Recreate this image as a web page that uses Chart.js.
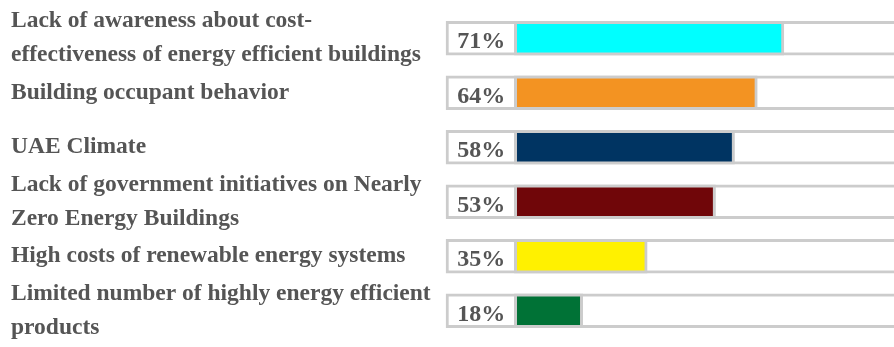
<!DOCTYPE html>
<html>
<head>
<meta charset="utf-8">
<script src="https://cdn.jsdelivr.net/npm/chart.js@4/dist/chart.umd.min.js"></script>
<style>
  html, body { margin: 0; padding: 0; background: #ffffff; }
  #wrap { width: 894px; height: 347px; position: relative; }
</style>
</head>
<body>
<div id="wrap"><canvas id="c"></canvas></div>
<script>
// Barriers and the share of respondents naming each one
const categories = [
  ["Lack of awareness about cost-", "effectiveness of energy efficient buildings"],
  ["Building occupant behavior"],
  ["UAE Climate"],
  ["Lack of government initiatives on Nearly", "Zero Energy Buildings"],
  ["High costs of renewable energy systems"],
  ["Limited number of highly energy efficient", "products"]
];
const shares = [71, 64, 58, 53, 35, 18];
const barColors = ["#00FFFF", "#F39322", "#003462", "#700609", "#FFF100", "#007236"];

const EDGE = "#CCCCCC";
const TEXT = "#555555";
const LABEL_MIN = -18;   // left end of the percent cell, in axis units
const AXIS_MAX = 100;

// Percent text written inside the cell left of each bar
const percentCells = {
  id: "percentCells",
  afterDatasetsDraw(chart) {
    const ctx = chart.ctx;
    const x = chart.scales.x;
    const meta = chart.getDatasetMeta(0);
    const cx = (x.getPixelForValue(LABEL_MIN) + x.getPixelForValue(0)) / 2 + 1;
    ctx.save();
    ctx.font = "bold 24px 'Liberation Serif', 'Times New Roman', serif";
    ctx.fillStyle = TEXT;
    ctx.textAlign = "center";
    ctx.textBaseline = "alphabetic";
    meta.data.forEach((bar, i) => {
      ctx.fillText(shares[i] + "%", cx, bar.y + 10);
    });
    ctx.restore();
  }
};

new Chart(document.getElementById("c"), {
  type: "bar",
  data: {
    labels: categories,
    datasets: [
      {
        data: shares,
        backgroundColor: barColors,
        borderColor: EDGE,
        borderWidth: 3,
        borderSkipped: false,
        barThickness: 34,
        grouped: false,
        order: 0
      },
      {
        data: shares.map(() => [LABEL_MIN, AXIS_MAX + 10]),
        backgroundColor: "#FFFFFF",
        borderColor: EDGE,
        borderWidth: 3,
        borderSkipped: false,
        barThickness: 34,
        grouped: false,
        clip: false,
        order: 1
      }
    ]
  },
  options: {
    indexAxis: "y",
    responsive: true,
    maintainAspectRatio: false,
    animation: false,
    layout: { padding: { left: 11, right: 0, top: 11, bottom: 9 } },
    plugins: {
      legend: { display: false },
      tooltip: { enabled: false },
      title: { display: false }
    },
    scales: {
      x: {
        display: false,
        min: LABEL_MIN,
        max: AXIS_MAX
      },
      y: {
        grid: { display: false },
        border: { display: false },
        ticks: {
          autoSkip: false,
          crossAlign: "far",
          padding: 0,
          color: TEXT,
          font: { family: "'Liberation Serif', 'Times New Roman', serif", size: 23.5, weight: "bold", lineHeight: 1.45 }
        },
        afterFit(scale) {
          scale.width = 435;
          scale.paddingTop = 0;
          scale.paddingBottom = 0;
        }
      }
    }
  },
  plugins: [percentCells]
});
</script>
</body>
</html>
